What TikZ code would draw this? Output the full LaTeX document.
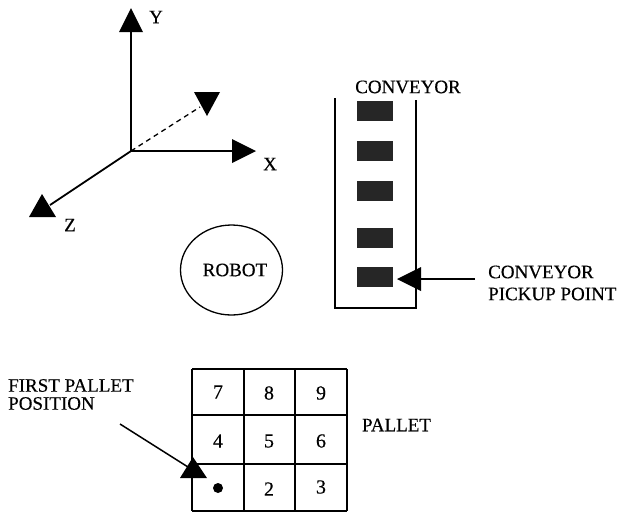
\documentclass[tikz,border=0pt]{standalone}
\usepackage{fontspec}
\usetikzlibrary{shapes.geometric}
\setmainfont[FakeBold=0.35]{Liberation Serif}
\begin{document}
\begin{tikzpicture}[x=1pt,y=-1pt,
  lbl/.style={font=\fontsize{19}{18}\selectfont,inner sep=0pt,align=left},
  num/.style={font=\fontsize{20}{20}\selectfont,inner sep=0pt},
  axis/.style={line width=1.8pt},
  wall/.style={line width=1.5pt},
  head/.style={fill=black}]
  \useasboundingbox (0,0) rectangle (619,515);
  % axes
  \coordinate (org) at (131,151);
  \coordinate (yend) at (131,30);
  \coordinate (xend) at (234,151);
  \coordinate (zend) at (50,205);
  \coordinate (dend) at (200,107);
  \draw[axis] (org) -- (yend);
  \draw[axis] (org) -- (xend);
  \draw[axis] (org) -- (zend);
  \draw[line width=1.3pt,dash pattern=on 5pt off 4pt] (org) -- (dend);
  \fill[head] (131,8) -- (143,32) -- (119,32) -- cycle;
  \fill[head] (256,151) -- (232,139) -- (232,163) -- cycle;
  \fill[head] (42,194) -- (56,217) -- (29,217) -- cycle;
  \fill[head] (207,116) -- (194,92) -- (220,92) -- cycle;
  \node[lbl] (ylbl) at (156,17) {Y};
  \node[lbl] (xlbl) at (270,164) {X};
  \node[lbl] (zlbl) at (70,225) {Z};
  % robot
  \node[draw,ellipse,line width=1.3pt,minimum width=102pt,minimum height=90pt,inner sep=0pt] (robot) at (231.5,270) {};
  \node[lbl] (robotlbl) at (235,270) {ROBOT};
  % conveyor
  \draw[wall] (335,98) -- (335,308) -- (416,308) -- (416,100);
  \foreach \y in {111,151,191,238,277}{
    \fill[black!85] (357,\y-10) rectangle (393,\y+10);
  }
  \node[lbl] (conv) at (408,87) {CONVEYOR};
  % pickup arrow
  \node[lbl,anchor=west] (pick) at (488,283) {CONVEYOR\\[4pt]PICKUP POINT};
  \coordinate (pickend) at (418,279);
  \draw[wall] (475,279) -- (pickend);
  \fill[head] (397,279) -- (421,267) -- (421,291) -- cycle;
  % pallet
  \foreach \x in {192,244,295,347}{
    \draw[wall] (\x,369) -- (\x,511);
  }
  \foreach \y in {369,415,464,511}{
    \draw[wall] (192,\y) -- (347,\y);
  }
  \foreach \n/\x/\y in {7/218/392,8/269/393,9/321/393,4/218/441,5/269/441,6/321/441,2/269/489,3/321/487}{
    \node[num] (cell\n) at (\x,\y) {\n};
  }
  \fill (218,488) circle (5);
  \node[lbl] (pallet) at (396.5,425) {PALLET};
  % first position arrow
  \node[lbl,anchor=west] (first) at (8,394.5) {FIRST PALLET\\POSITION};
  \coordinate (firstfrom) at (120,424);
  \coordinate (firstend) at (188,467);
  \draw[wall] (firstfrom) -- (firstend);
  \fill[head] (193,457) -- (207,478) -- (180,478) -- cycle;
\end{tikzpicture}
\end{document}
